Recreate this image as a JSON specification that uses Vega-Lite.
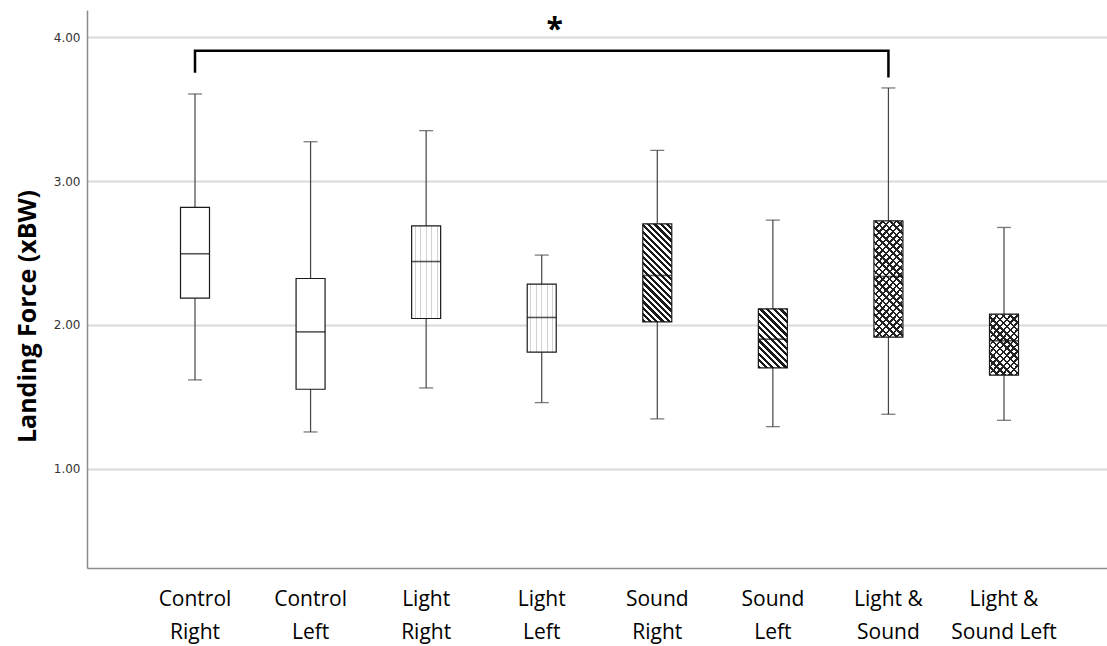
{
  "$schema": "https://vega.github.io/schema/vega-lite/v6.json",
  "width": 1025,
  "height": 558,
  "autosize": "none",
  "padding": {"left": 87, "top": 10, "right": 0, "bottom": 78},
  "background": "white",
  "config": {"view": {"stroke": null}, "font": "Open Sans"},
  "datasets": {
    "boxes": [
      {"group": "Control Right", "cond": "Control", "lower": 1.618, "q1": 2.186, "median": 2.495, "q3": 2.817, "upper": 3.606},
      {"group": "Control Left", "cond": "Control", "lower": 1.256, "q1": 1.553, "median": 1.952, "q3": 2.323, "upper": 3.274},
      {"group": "Light Right", "cond": "Light", "lower": 1.562, "q1": 2.045, "median": 2.441, "q3": 2.689, "upper": 3.351},
      {"group": "Light Left", "cond": "Light", "lower": 1.46, "q1": 1.811, "median": 2.052, "q3": 2.284, "upper": 2.486},
      {"group": "Sound Right", "cond": "Sound", "lower": 1.347, "q1": 2.021, "median": 2.344, "q3": 2.703, "upper": 3.214},
      {"group": "Sound Left", "cond": "Sound", "lower": 1.293, "q1": 1.701, "median": 1.901, "q3": 2.112, "upper": 2.729},
      {"group": "Light & Sound", "cond": "Light & Sound", "lower": 1.379, "q1": 1.915, "median": 2.337, "q3": 2.724, "upper": 3.648},
      {"group": "Light & Sound Left", "cond": "Light & Sound", "lower": 1.337, "q1": 1.651, "median": 1.89, "q3": 2.075, "upper": 2.678}
    ],
    "bracket": [
      {"group": "Control Right", "y": 3.754, "o": 1},
      {"group": "Control Right", "y": 3.907, "o": 2},
      {"group": "Light & Sound", "y": 3.907, "o": 3},
      {"group": "Light & Sound", "y": 3.72, "o": 4}
    ],
    "star": [
      {"group": "Light Left", "y": 3.985, "label": "*"}
    ]
  },
  "data": {"name": "boxes"},
  "encoding": {
    "x": {
      "field": "group",
      "type": "nominal",
      "sort": null,
      "scale": {
        "domain": ["Control Right", "Control Left", "Light Right", "Light Left", "Sound Right", "Sound Left", "Light & Sound", "Light & Sound Left"],
        "paddingInner": 0,
        "paddingOuter": 0.4345
      },
      "axis": {
        "title": null,
        "ticks": false,
        "grid": false,
        "domainColor": "#8c8c8c",
        "domainWidth": 1.5,
        "labelFont": "Open Sans",
        "labelFontSize": 21,
        "labelColor": "#000000",
        "labelPadding": 20,
        "labelLineHeight": 33,
        "labelAngle": 0,
        "labelOverlap": false,
        "labelLimit": 0,
        "labelExpr": "datum.value == 'Light & Sound' ? ['Light &', 'Sound'] : datum.value == 'Light & Sound Left' ? ['Light &', 'Sound Left'] : split(datum.value, ' ')"
      }
    }
  },
  "layer": [
    {
      "mark": {"type": "rule", "color": "#444444", "strokeWidth": 1.2},
      "encoding": {
        "y": {
          "field": "lower",
          "type": "quantitative",
          "title": "Landing Force (xBW)",
          "scale": {"domain": [0.31, 4.19], "nice": false, "zero": false},
          "axis": {
            "title": "Landing Force (xBW)",
            "values": [1, 2, 3, 4],
            "format": ".2f",
            "ticks": false,
            "grid": true,
            "labelFont": "DejaVu Sans",
            "labelFontSize": 12,
            "labelColor": "#333333",
            "labelPadding": 7,
            "domainColor": "#8c8c8c",
            "domainWidth": 1.5,
            "gridColor": "#d9d9d9",
            "gridWidth": 2,
            "titleFont": "Open Sans",
            "titleFontSize": 25,
            "titleFontWeight": "bold",
            "titleColor": "#000000",
            "titleAngle": 270,
            "titleX": -52,
            "titleY": 306,
            "titleAlign": "center",
            "titleBaseline": "alphabetic"
          }
        },
        "y2": {"field": "upper"}
      }
    },
    {
      "mark": {"type": "tick", "color": "#444444", "size": 14, "thickness": 1.3},
      "encoding": {
        "y": {"field": "upper", "type": "quantitative", "title": "Landing Force (xBW)", "scale": {"domain": [0.31, 4.19], "nice": false, "zero": false}}
      }
    },
    {
      "mark": {"type": "tick", "color": "#444444", "size": 14, "thickness": 1.3},
      "encoding": {
        "y": {"field": "lower", "type": "quantitative", "title": "Landing Force (xBW)", "scale": {"domain": [0.31, 4.19], "nice": false, "zero": false}}
      }
    },
    {
      "mark": {"type": "bar", "size": 29, "stroke": "#1a1a1a", "strokeWidth": 1.2},
      "encoding": {
        "y": {"field": "q1", "type": "quantitative", "title": "Landing Force (xBW)", "scale": {"domain": [0.31, 4.19], "nice": false, "zero": false}},
        "y2": {"field": "q3"},
        "fill": {
          "condition": [
            {"test": "datum.cond === 'Light'", "value": {"gradient": "linear", "x1": 0, "y1": 0, "x2": 1, "y2": 0, "stops": [
              {"offset": 0, "color": "#ffffff"}, {"offset": 0.1, "color": "#ffffff"}, {"offset": 0.1, "color": "#d2d2d2"}, {"offset": 0.14, "color": "#d2d2d2"}, {"offset": 0.14, "color": "#ffffff"},
              {"offset": 0.29, "color": "#ffffff"}, {"offset": 0.29, "color": "#d2d2d2"}, {"offset": 0.33, "color": "#d2d2d2"}, {"offset": 0.33, "color": "#ffffff"},
              {"offset": 0.48, "color": "#ffffff"}, {"offset": 0.48, "color": "#d2d2d2"}, {"offset": 0.52, "color": "#d2d2d2"}, {"offset": 0.52, "color": "#ffffff"},
              {"offset": 0.67, "color": "#ffffff"}, {"offset": 0.67, "color": "#d2d2d2"}, {"offset": 0.71, "color": "#d2d2d2"}, {"offset": 0.71, "color": "#ffffff"},
              {"offset": 0.86, "color": "#ffffff"}, {"offset": 0.86, "color": "#d2d2d2"}, {"offset": 0.9, "color": "#d2d2d2"}, {"offset": 0.9, "color": "#ffffff"},
              {"offset": 1, "color": "#ffffff"}
            ]}},
            {"test": "datum.group === 'Sound Right'", "value": {"gradient": "linear", "x1": 0, "y1": 1, "x2": 0.3522, "y2": -0.1915, "stops": [
              {"offset": 0, "color": "#1a1a1a"}, {"offset": 0.025, "color": "#1a1a1a"}, {"offset": 0.025, "color": "#ffffff"}, {"offset": 0.05, "color": "#ffffff"},
              {"offset": 0.05, "color": "#1a1a1a"}, {"offset": 0.075, "color": "#1a1a1a"}, {"offset": 0.075, "color": "#ffffff"}, {"offset": 0.1, "color": "#ffffff"},
              {"offset": 0.1, "color": "#1a1a1a"}, {"offset": 0.125, "color": "#1a1a1a"}, {"offset": 0.125, "color": "#ffffff"}, {"offset": 0.15, "color": "#ffffff"},
              {"offset": 0.15, "color": "#1a1a1a"}, {"offset": 0.175, "color": "#1a1a1a"}, {"offset": 0.175, "color": "#ffffff"}, {"offset": 0.2, "color": "#ffffff"},
              {"offset": 0.2, "color": "#1a1a1a"}, {"offset": 0.225, "color": "#1a1a1a"}, {"offset": 0.225, "color": "#ffffff"}, {"offset": 0.25, "color": "#ffffff"},
              {"offset": 0.25, "color": "#1a1a1a"}, {"offset": 0.275, "color": "#1a1a1a"}, {"offset": 0.275, "color": "#ffffff"}, {"offset": 0.3, "color": "#ffffff"},
              {"offset": 0.3, "color": "#1a1a1a"}, {"offset": 0.325, "color": "#1a1a1a"}, {"offset": 0.325, "color": "#ffffff"}, {"offset": 0.35, "color": "#ffffff"},
              {"offset": 0.35, "color": "#1a1a1a"}, {"offset": 0.375, "color": "#1a1a1a"}, {"offset": 0.375, "color": "#ffffff"}, {"offset": 0.4, "color": "#ffffff"},
              {"offset": 0.4, "color": "#1a1a1a"}, {"offset": 0.425, "color": "#1a1a1a"}, {"offset": 0.425, "color": "#ffffff"}, {"offset": 0.45, "color": "#ffffff"},
              {"offset": 0.45, "color": "#1a1a1a"}, {"offset": 0.475, "color": "#1a1a1a"}, {"offset": 0.475, "color": "#ffffff"}, {"offset": 0.5, "color": "#ffffff"},
              {"offset": 0.5, "color": "#1a1a1a"}, {"offset": 0.525, "color": "#1a1a1a"}, {"offset": 0.525, "color": "#ffffff"}, {"offset": 0.55, "color": "#ffffff"},
              {"offset": 0.55, "color": "#1a1a1a"}, {"offset": 0.575, "color": "#1a1a1a"}, {"offset": 0.575, "color": "#ffffff"}, {"offset": 0.6, "color": "#ffffff"},
              {"offset": 0.6, "color": "#1a1a1a"}, {"offset": 0.625, "color": "#1a1a1a"}, {"offset": 0.625, "color": "#ffffff"}, {"offset": 0.65, "color": "#ffffff"},
              {"offset": 0.65, "color": "#1a1a1a"}, {"offset": 0.675, "color": "#1a1a1a"}, {"offset": 0.675, "color": "#ffffff"}, {"offset": 0.7, "color": "#ffffff"},
              {"offset": 0.7, "color": "#1a1a1a"}, {"offset": 0.725, "color": "#1a1a1a"}, {"offset": 0.725, "color": "#ffffff"}, {"offset": 0.75, "color": "#ffffff"},
              {"offset": 0.75, "color": "#1a1a1a"}, {"offset": 0.775, "color": "#1a1a1a"}, {"offset": 0.775, "color": "#ffffff"}, {"offset": 0.8, "color": "#ffffff"},
              {"offset": 0.8, "color": "#1a1a1a"}, {"offset": 0.825, "color": "#1a1a1a"}, {"offset": 0.825, "color": "#ffffff"}, {"offset": 0.85, "color": "#ffffff"},
              {"offset": 0.85, "color": "#1a1a1a"}, {"offset": 0.875, "color": "#1a1a1a"}, {"offset": 0.875, "color": "#ffffff"}, {"offset": 0.9, "color": "#ffffff"},
              {"offset": 0.9, "color": "#1a1a1a"}, {"offset": 0.925, "color": "#1a1a1a"}, {"offset": 0.925, "color": "#ffffff"}, {"offset": 0.95, "color": "#ffffff"},
              {"offset": 0.95, "color": "#1a1a1a"}, {"offset": 0.975, "color": "#1a1a1a"}, {"offset": 0.975, "color": "#ffffff"}, {"offset": 1, "color": "#ffffff"}
            ]}},
            {"test": "datum.group === 'Sound Left'", "value": {"gradient": "linear", "x1": 0, "y1": 1, "x2": 0.5896, "y2": -0.2016, "stops": [
              {"offset": 0, "color": "#1a1a1a"}, {"offset": 0.0375, "color": "#1a1a1a"}, {"offset": 0.0375, "color": "#ffffff"}, {"offset": 0.075, "color": "#ffffff"},
              {"offset": 0.075, "color": "#1a1a1a"}, {"offset": 0.1125, "color": "#1a1a1a"}, {"offset": 0.1125, "color": "#ffffff"}, {"offset": 0.15, "color": "#ffffff"},
              {"offset": 0.15, "color": "#1a1a1a"}, {"offset": 0.1875, "color": "#1a1a1a"}, {"offset": 0.1875, "color": "#ffffff"}, {"offset": 0.225, "color": "#ffffff"},
              {"offset": 0.225, "color": "#1a1a1a"}, {"offset": 0.2625, "color": "#1a1a1a"}, {"offset": 0.2625, "color": "#ffffff"}, {"offset": 0.3, "color": "#ffffff"},
              {"offset": 0.3, "color": "#1a1a1a"}, {"offset": 0.3375, "color": "#1a1a1a"}, {"offset": 0.3375, "color": "#ffffff"}, {"offset": 0.375, "color": "#ffffff"},
              {"offset": 0.375, "color": "#1a1a1a"}, {"offset": 0.4125, "color": "#1a1a1a"}, {"offset": 0.4125, "color": "#ffffff"}, {"offset": 0.45, "color": "#ffffff"},
              {"offset": 0.45, "color": "#1a1a1a"}, {"offset": 0.4875, "color": "#1a1a1a"}, {"offset": 0.4875, "color": "#ffffff"}, {"offset": 0.525, "color": "#ffffff"},
              {"offset": 0.525, "color": "#1a1a1a"}, {"offset": 0.5625, "color": "#1a1a1a"}, {"offset": 0.5625, "color": "#ffffff"}, {"offset": 0.6, "color": "#ffffff"},
              {"offset": 0.6, "color": "#1a1a1a"}, {"offset": 0.6375, "color": "#1a1a1a"}, {"offset": 0.6375, "color": "#ffffff"}, {"offset": 0.675, "color": "#ffffff"},
              {"offset": 0.675, "color": "#1a1a1a"}, {"offset": 0.7125, "color": "#1a1a1a"}, {"offset": 0.7125, "color": "#ffffff"}, {"offset": 0.75, "color": "#ffffff"},
              {"offset": 0.75, "color": "#1a1a1a"}, {"offset": 0.7875, "color": "#1a1a1a"}, {"offset": 0.7875, "color": "#ffffff"}, {"offset": 0.825, "color": "#ffffff"},
              {"offset": 0.825, "color": "#1a1a1a"}, {"offset": 0.8625, "color": "#1a1a1a"}, {"offset": 0.8625, "color": "#ffffff"}, {"offset": 0.9, "color": "#ffffff"},
              {"offset": 0.9, "color": "#1a1a1a"}, {"offset": 0.9375, "color": "#1a1a1a"}, {"offset": 0.9375, "color": "#ffffff"}, {"offset": 0.975, "color": "#ffffff"},
              {"offset": 0.975, "color": "#1a1a1a"}, {"offset": 1, "color": "#1a1a1a"}
            ]}},
            {"test": "datum.group === 'Light & Sound'", "value": {"gradient": "linear", "x1": 0, "y1": 1, "x2": 0.2932, "y2": -0.1762, "stops": [
              {"offset": 0, "color": "#222222"}, {"offset": 0.0175, "color": "#222222"}, {"offset": 0.0175, "color": "#ffffff"}, {"offset": 0.05, "color": "#ffffff"},
              {"offset": 0.05, "color": "#222222"}, {"offset": 0.0675, "color": "#222222"}, {"offset": 0.0675, "color": "#ffffff"}, {"offset": 0.1, "color": "#ffffff"},
              {"offset": 0.1, "color": "#222222"}, {"offset": 0.1175, "color": "#222222"}, {"offset": 0.1175, "color": "#ffffff"}, {"offset": 0.15, "color": "#ffffff"},
              {"offset": 0.15, "color": "#222222"}, {"offset": 0.1675, "color": "#222222"}, {"offset": 0.1675, "color": "#ffffff"}, {"offset": 0.2, "color": "#ffffff"},
              {"offset": 0.2, "color": "#222222"}, {"offset": 0.2175, "color": "#222222"}, {"offset": 0.2175, "color": "#ffffff"}, {"offset": 0.25, "color": "#ffffff"},
              {"offset": 0.25, "color": "#222222"}, {"offset": 0.2675, "color": "#222222"}, {"offset": 0.2675, "color": "#ffffff"}, {"offset": 0.3, "color": "#ffffff"},
              {"offset": 0.3, "color": "#222222"}, {"offset": 0.3175, "color": "#222222"}, {"offset": 0.3175, "color": "#ffffff"}, {"offset": 0.35, "color": "#ffffff"},
              {"offset": 0.35, "color": "#222222"}, {"offset": 0.3675, "color": "#222222"}, {"offset": 0.3675, "color": "#ffffff"}, {"offset": 0.4, "color": "#ffffff"},
              {"offset": 0.4, "color": "#222222"}, {"offset": 0.4175, "color": "#222222"}, {"offset": 0.4175, "color": "#ffffff"}, {"offset": 0.45, "color": "#ffffff"},
              {"offset": 0.45, "color": "#222222"}, {"offset": 0.4675, "color": "#222222"}, {"offset": 0.4675, "color": "#ffffff"}, {"offset": 0.5, "color": "#ffffff"},
              {"offset": 0.5, "color": "#222222"}, {"offset": 0.5175, "color": "#222222"}, {"offset": 0.5175, "color": "#ffffff"}, {"offset": 0.55, "color": "#ffffff"},
              {"offset": 0.55, "color": "#222222"}, {"offset": 0.5675, "color": "#222222"}, {"offset": 0.5675, "color": "#ffffff"}, {"offset": 0.6, "color": "#ffffff"},
              {"offset": 0.6, "color": "#222222"}, {"offset": 0.6175, "color": "#222222"}, {"offset": 0.6175, "color": "#ffffff"}, {"offset": 0.65, "color": "#ffffff"},
              {"offset": 0.65, "color": "#222222"}, {"offset": 0.6675, "color": "#222222"}, {"offset": 0.6675, "color": "#ffffff"}, {"offset": 0.7, "color": "#ffffff"},
              {"offset": 0.7, "color": "#222222"}, {"offset": 0.7175, "color": "#222222"}, {"offset": 0.7175, "color": "#ffffff"}, {"offset": 0.75, "color": "#ffffff"},
              {"offset": 0.75, "color": "#222222"}, {"offset": 0.7675, "color": "#222222"}, {"offset": 0.7675, "color": "#ffffff"}, {"offset": 0.8, "color": "#ffffff"},
              {"offset": 0.8, "color": "#222222"}, {"offset": 0.8175, "color": "#222222"}, {"offset": 0.8175, "color": "#ffffff"}, {"offset": 0.85, "color": "#ffffff"},
              {"offset": 0.85, "color": "#222222"}, {"offset": 0.8675, "color": "#222222"}, {"offset": 0.8675, "color": "#ffffff"}, {"offset": 0.9, "color": "#ffffff"},
              {"offset": 0.9, "color": "#222222"}, {"offset": 0.9175, "color": "#222222"}, {"offset": 0.9175, "color": "#ffffff"}, {"offset": 0.95, "color": "#ffffff"},
              {"offset": 0.95, "color": "#222222"}, {"offset": 0.9675, "color": "#222222"}, {"offset": 0.9675, "color": "#ffffff"}, {"offset": 1, "color": "#ffffff"}
            ]}},
            {"test": "datum.group === 'Light & Sound Left'", "value": {"gradient": "linear", "x1": 0, "y1": 1, "x2": 0.5721, "y2": -0.2032, "stops": [
              {"offset": 0, "color": "#222222"}, {"offset": 0.028, "color": "#222222"}, {"offset": 0.028, "color": "#ffffff"}, {"offset": 0.08, "color": "#ffffff"},
              {"offset": 0.08, "color": "#222222"}, {"offset": 0.108, "color": "#222222"}, {"offset": 0.108, "color": "#ffffff"}, {"offset": 0.16, "color": "#ffffff"},
              {"offset": 0.16, "color": "#222222"}, {"offset": 0.188, "color": "#222222"}, {"offset": 0.188, "color": "#ffffff"}, {"offset": 0.24, "color": "#ffffff"},
              {"offset": 0.24, "color": "#222222"}, {"offset": 0.268, "color": "#222222"}, {"offset": 0.268, "color": "#ffffff"}, {"offset": 0.32, "color": "#ffffff"},
              {"offset": 0.32, "color": "#222222"}, {"offset": 0.348, "color": "#222222"}, {"offset": 0.348, "color": "#ffffff"}, {"offset": 0.4, "color": "#ffffff"},
              {"offset": 0.4, "color": "#222222"}, {"offset": 0.428, "color": "#222222"}, {"offset": 0.428, "color": "#ffffff"}, {"offset": 0.48, "color": "#ffffff"},
              {"offset": 0.48, "color": "#222222"}, {"offset": 0.508, "color": "#222222"}, {"offset": 0.508, "color": "#ffffff"}, {"offset": 0.56, "color": "#ffffff"},
              {"offset": 0.56, "color": "#222222"}, {"offset": 0.588, "color": "#222222"}, {"offset": 0.588, "color": "#ffffff"}, {"offset": 0.64, "color": "#ffffff"},
              {"offset": 0.64, "color": "#222222"}, {"offset": 0.668, "color": "#222222"}, {"offset": 0.668, "color": "#ffffff"}, {"offset": 0.72, "color": "#ffffff"},
              {"offset": 0.72, "color": "#222222"}, {"offset": 0.748, "color": "#222222"}, {"offset": 0.748, "color": "#ffffff"}, {"offset": 0.8, "color": "#ffffff"},
              {"offset": 0.8, "color": "#222222"}, {"offset": 0.828, "color": "#222222"}, {"offset": 0.828, "color": "#ffffff"}, {"offset": 0.88, "color": "#ffffff"},
              {"offset": 0.88, "color": "#222222"}, {"offset": 0.908, "color": "#222222"}, {"offset": 0.908, "color": "#ffffff"}, {"offset": 0.96, "color": "#ffffff"},
              {"offset": 0.96, "color": "#222222"}, {"offset": 0.988, "color": "#222222"}, {"offset": 0.988, "color": "#ffffff"}, {"offset": 1, "color": "#ffffff"}
            ]}}
          ],
          "value": "#ffffff"
        }
      }
    },
    {
      "transform": [{"filter": "datum.cond === 'Light & Sound'"}],
      "mark": {"type": "bar", "size": 27, "strokeWidth": 0},
      "encoding": {
        "y": {"field": "q1", "type": "quantitative", "title": "Landing Force (xBW)", "scale": {"domain": [0.31, 4.19], "nice": false, "zero": false}},
        "y2": {"field": "q3"},
        "fill": {
          "condition": [
            {"test": "datum.group === 'Light & Sound'", "value": {"gradient": "linear", "x1": 0, "y1": 0, "x2": 0.2932, "y2": 1.1762, "stops": [
              {"offset": 0, "color": "#222222"}, {"offset": 0.0175, "color": "#222222"}, {"offset": 0.0175, "color": "rgba(255,255,255,0)"}, {"offset": 0.05, "color": "rgba(255,255,255,0)"},
              {"offset": 0.05, "color": "#222222"}, {"offset": 0.0675, "color": "#222222"}, {"offset": 0.0675, "color": "rgba(255,255,255,0)"}, {"offset": 0.1, "color": "rgba(255,255,255,0)"},
              {"offset": 0.1, "color": "#222222"}, {"offset": 0.1175, "color": "#222222"}, {"offset": 0.1175, "color": "rgba(255,255,255,0)"}, {"offset": 0.15, "color": "rgba(255,255,255,0)"},
              {"offset": 0.15, "color": "#222222"}, {"offset": 0.1675, "color": "#222222"}, {"offset": 0.1675, "color": "rgba(255,255,255,0)"}, {"offset": 0.2, "color": "rgba(255,255,255,0)"},
              {"offset": 0.2, "color": "#222222"}, {"offset": 0.2175, "color": "#222222"}, {"offset": 0.2175, "color": "rgba(255,255,255,0)"}, {"offset": 0.25, "color": "rgba(255,255,255,0)"},
              {"offset": 0.25, "color": "#222222"}, {"offset": 0.2675, "color": "#222222"}, {"offset": 0.2675, "color": "rgba(255,255,255,0)"}, {"offset": 0.3, "color": "rgba(255,255,255,0)"},
              {"offset": 0.3, "color": "#222222"}, {"offset": 0.3175, "color": "#222222"}, {"offset": 0.3175, "color": "rgba(255,255,255,0)"}, {"offset": 0.35, "color": "rgba(255,255,255,0)"},
              {"offset": 0.35, "color": "#222222"}, {"offset": 0.3675, "color": "#222222"}, {"offset": 0.3675, "color": "rgba(255,255,255,0)"}, {"offset": 0.4, "color": "rgba(255,255,255,0)"},
              {"offset": 0.4, "color": "#222222"}, {"offset": 0.4175, "color": "#222222"}, {"offset": 0.4175, "color": "rgba(255,255,255,0)"}, {"offset": 0.45, "color": "rgba(255,255,255,0)"},
              {"offset": 0.45, "color": "#222222"}, {"offset": 0.4675, "color": "#222222"}, {"offset": 0.4675, "color": "rgba(255,255,255,0)"}, {"offset": 0.5, "color": "rgba(255,255,255,0)"},
              {"offset": 0.5, "color": "#222222"}, {"offset": 0.5175, "color": "#222222"}, {"offset": 0.5175, "color": "rgba(255,255,255,0)"}, {"offset": 0.55, "color": "rgba(255,255,255,0)"},
              {"offset": 0.55, "color": "#222222"}, {"offset": 0.5675, "color": "#222222"}, {"offset": 0.5675, "color": "rgba(255,255,255,0)"}, {"offset": 0.6, "color": "rgba(255,255,255,0)"},
              {"offset": 0.6, "color": "#222222"}, {"offset": 0.6175, "color": "#222222"}, {"offset": 0.6175, "color": "rgba(255,255,255,0)"}, {"offset": 0.65, "color": "rgba(255,255,255,0)"},
              {"offset": 0.65, "color": "#222222"}, {"offset": 0.6675, "color": "#222222"}, {"offset": 0.6675, "color": "rgba(255,255,255,0)"}, {"offset": 0.7, "color": "rgba(255,255,255,0)"},
              {"offset": 0.7, "color": "#222222"}, {"offset": 0.7175, "color": "#222222"}, {"offset": 0.7175, "color": "rgba(255,255,255,0)"}, {"offset": 0.75, "color": "rgba(255,255,255,0)"},
              {"offset": 0.75, "color": "#222222"}, {"offset": 0.7675, "color": "#222222"}, {"offset": 0.7675, "color": "rgba(255,255,255,0)"}, {"offset": 0.8, "color": "rgba(255,255,255,0)"},
              {"offset": 0.8, "color": "#222222"}, {"offset": 0.8175, "color": "#222222"}, {"offset": 0.8175, "color": "rgba(255,255,255,0)"}, {"offset": 0.85, "color": "rgba(255,255,255,0)"},
              {"offset": 0.85, "color": "#222222"}, {"offset": 0.8675, "color": "#222222"}, {"offset": 0.8675, "color": "rgba(255,255,255,0)"}, {"offset": 0.9, "color": "rgba(255,255,255,0)"},
              {"offset": 0.9, "color": "#222222"}, {"offset": 0.9175, "color": "#222222"}, {"offset": 0.9175, "color": "rgba(255,255,255,0)"}, {"offset": 0.95, "color": "rgba(255,255,255,0)"},
              {"offset": 0.95, "color": "#222222"}, {"offset": 0.9675, "color": "#222222"}, {"offset": 0.9675, "color": "rgba(255,255,255,0)"}, {"offset": 1, "color": "rgba(255,255,255,0)"}
            ]}},
            {"test": "datum.group === 'Light & Sound Left'", "value": {"gradient": "linear", "x1": 0, "y1": 0, "x2": 0.5721, "y2": 1.2032, "stops": [
              {"offset": 0, "color": "#222222"}, {"offset": 0.028, "color": "#222222"}, {"offset": 0.028, "color": "rgba(255,255,255,0)"}, {"offset": 0.08, "color": "rgba(255,255,255,0)"},
              {"offset": 0.08, "color": "#222222"}, {"offset": 0.108, "color": "#222222"}, {"offset": 0.108, "color": "rgba(255,255,255,0)"}, {"offset": 0.16, "color": "rgba(255,255,255,0)"},
              {"offset": 0.16, "color": "#222222"}, {"offset": 0.188, "color": "#222222"}, {"offset": 0.188, "color": "rgba(255,255,255,0)"}, {"offset": 0.24, "color": "rgba(255,255,255,0)"},
              {"offset": 0.24, "color": "#222222"}, {"offset": 0.268, "color": "#222222"}, {"offset": 0.268, "color": "rgba(255,255,255,0)"}, {"offset": 0.32, "color": "rgba(255,255,255,0)"},
              {"offset": 0.32, "color": "#222222"}, {"offset": 0.348, "color": "#222222"}, {"offset": 0.348, "color": "rgba(255,255,255,0)"}, {"offset": 0.4, "color": "rgba(255,255,255,0)"},
              {"offset": 0.4, "color": "#222222"}, {"offset": 0.428, "color": "#222222"}, {"offset": 0.428, "color": "rgba(255,255,255,0)"}, {"offset": 0.48, "color": "rgba(255,255,255,0)"},
              {"offset": 0.48, "color": "#222222"}, {"offset": 0.508, "color": "#222222"}, {"offset": 0.508, "color": "rgba(255,255,255,0)"}, {"offset": 0.56, "color": "rgba(255,255,255,0)"},
              {"offset": 0.56, "color": "#222222"}, {"offset": 0.588, "color": "#222222"}, {"offset": 0.588, "color": "rgba(255,255,255,0)"}, {"offset": 0.64, "color": "rgba(255,255,255,0)"},
              {"offset": 0.64, "color": "#222222"}, {"offset": 0.668, "color": "#222222"}, {"offset": 0.668, "color": "rgba(255,255,255,0)"}, {"offset": 0.72, "color": "rgba(255,255,255,0)"},
              {"offset": 0.72, "color": "#222222"}, {"offset": 0.748, "color": "#222222"}, {"offset": 0.748, "color": "rgba(255,255,255,0)"}, {"offset": 0.8, "color": "rgba(255,255,255,0)"},
              {"offset": 0.8, "color": "#222222"}, {"offset": 0.828, "color": "#222222"}, {"offset": 0.828, "color": "rgba(255,255,255,0)"}, {"offset": 0.88, "color": "rgba(255,255,255,0)"},
              {"offset": 0.88, "color": "#222222"}, {"offset": 0.908, "color": "#222222"}, {"offset": 0.908, "color": "rgba(255,255,255,0)"}, {"offset": 0.96, "color": "rgba(255,255,255,0)"},
              {"offset": 0.96, "color": "#222222"}, {"offset": 0.988, "color": "#222222"}, {"offset": 0.988, "color": "rgba(255,255,255,0)"}, {"offset": 1, "color": "rgba(255,255,255,0)"}
            ]}}
          ],
          "value": "rgba(255,255,255,0)"
        }
      }
    },
    {
      "mark": {"type": "tick", "color": "#111111", "size": 29, "thickness": 1.6},
      "encoding": {
        "y": {"field": "median", "type": "quantitative", "title": "Landing Force (xBW)", "scale": {"domain": [0.31, 4.19], "nice": false, "zero": false}}
      }
    },
    {
      "data": {"name": "bracket"},
      "mark": {"type": "line", "color": "#000000", "strokeWidth": 2.5, "strokeJoin": "miter", "strokeCap": "butt"},
      "encoding": {
        "y": {"field": "y", "type": "quantitative", "title": "Landing Force (xBW)", "scale": {"domain": [0.31, 4.19], "nice": false, "zero": false}},
        "order": {"field": "o", "type": "quantitative"}
      }
    },
    {
      "data": {"name": "star"},
      "mark": {"type": "text", "font": "Open Sans", "fontSize": 30, "fontWeight": "bold", "color": "#000000", "baseline": "alphabetic", "align": "center", "dx": 13},
      "encoding": {
        "y": {"field": "y", "type": "quantitative", "title": "Landing Force (xBW)", "scale": {"domain": [0.31, 4.19], "nice": false, "zero": false}},
        "text": {"field": "label"}
      }
    }
  ]
}
